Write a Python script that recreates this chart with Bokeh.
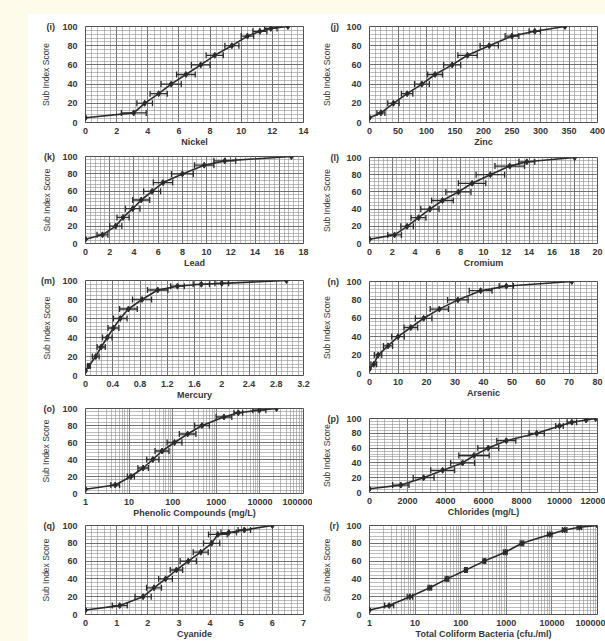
from bokeh.plotting import figure
from bokeh.layouts import column, row
from bokeh.models import (ColumnDataSource, Whisker, TeeHead, SingleIntervalTicker,
                          FixedTicker, NumeralTickFormatter)
from bokeh.embed import file_html
from bokeh.resources import INLINE

# ---------------- data ----------------
y_levels_13 = [5, 10, 20, 30, 40, 50, 60, 70, 80, 90, 95, 98, 100]
y_levels_12 = [5, 10, 20, 30, 40, 50, 60, 70, 80, 90, 95, 100]

nickel_x = [0, 3.1, 3.8, 4.7, 5.5, 6.45, 7.4, 8.3, 9.4, 10.4, 11.2, 11.9, 13.0]
nickel_y = y_levels_13
nickel_err = [0, 0.8, 0.5, 0.55, 0.65, 0.6, 0.6, 0.55, 0.45, 0.4, 0.45, 0.4, 0]

zinc_x = [0, 20, 42, 66, 92, 115, 145, 172, 210, 250, 290, 343]
zinc_y = y_levels_12
zinc_err = [0, 7, 10, 10, 13, 13, 15, 17, 16, 12, 10, 0]

lead_x = [0, 1.4, 2.5, 3.1, 3.9, 4.6, 5.5, 6.4, 8.0, 9.8, 11.5, 17.0]
lead_y = y_levels_12
lead_err = [0, 0.45, 0.5, 0.5, 0.6, 0.7, 0.7, 0.8, 0.9, 0.8, 0.9, 0]

cromium_x = [0, 2.2, 3.3, 4.3, 5.3, 6.4, 7.8, 9.0, 10.6, 12.3, 13.8, 18]
cromium_y = y_levels_12
cromium_err = [0, 0.6, 0.55, 0.65, 0.8, 0.95, 1.1, 1.2, 1.25, 1.3, 0.7, 0]

mercury_x = [0, 0.05, 0.15, 0.23, 0.32, 0.41, 0.51, 0.63, 0.83, 1.06, 1.35, 1.7, 2.0, 2.95]
mercury_y = [5, 10, 20, 30, 40, 50, 60, 70, 80, 90, 94, 96, 97, 100]
mercury_err = [0, 0.02, 0.05, 0.06, 0.07, 0.08, 0.1, 0.13, 0.14, 0.15, 0.1, 0.12, 0.1, 0]

arsenic_x = [0, 1.5, 3, 6.5, 10, 14.5, 19, 24.5, 31, 39, 48, 71]
arsenic_y = y_levels_12
arsenic_err = [0, 1, 1.3, 1.6, 2.2, 2.4, 2.9, 3.2, 3.6, 4.0, 2.5, 0]

phenolic_x = [1, 4.8, 11, 21, 35, 57, 110, 220, 470, 1500, 3200, 9700, 24000]
phenolic_y = y_levels_13
phenolic_err_dec = [0, 0.1, 0.08, 0.12, 0.14, 0.16, 0.17, 0.19, 0.17, 0.18, 0.1, 0.15, 0]

chlorides_x = [0, 1650, 2850, 3850, 4900, 5500, 6250, 7200, 8800, 10000, 10650, 11400, 11900]
chlorides_y = y_levels_13
chlorides_err = [0, 430, 550, 630, 630, 800, 550, 500, 400, 200, 250, 0, 0]

cyanide_x = [0, 1.1, 1.85, 2.2, 2.57, 2.92, 3.3, 3.7, 4.05, 4.25, 4.6, 5.1, 6.0]
cyanide_y = [5, 10, 20, 30, 40, 50, 60, 70, 80, 90, 92, 95, 100]
cyanide_err = [0, 0.24, 0.26, 0.24, 0.22, 0.2, 0.26, 0.24, 0.26, 0.3, 0.25, 0.2, 0]

coliform_x = [1, 2.7, 7.7, 21, 50, 130, 330, 950, 2200, 9000, 19000, 40000, 100000]
coliform_y = y_levels_13
coliform_err_dec = [0, 0.1, 0.06, 0.04, 0.04, 0.03, 0.03, 0.04, 0.04, 0.05, 0.05, 0.05, 0]

y_label = "Sub Index Score"

# ---------------- styling ----------------
INK = "#2b2b2b"
TXT = "#363636"
FONT = "Liberation Sans"
TICK_PX = 9.0
# approximate advance widths (em) of Liberation Sans Bold, used to keep the
# y-axis title at a fixed place although the panel tag widens the "100" label
EM = {"(": 0.333, ")": 0.333, "i": 0.278, "j": 0.278, "k": 0.556, "l": 0.278,
      "m": 0.889, "n": 0.611, "o": 0.611, "p": 0.611, "q": 0.611, "r": 0.389}


def panel(tag, xs, ys, errs, x_range, x_title, interval=None, log=False,
          width=300, height=140, mbl=77, mbr=9, mbt=18, mbb=26, title_gap=36):
    p = figure(width=width, height=height, x_range=x_range, y_range=(0, 100),
               x_axis_type="log" if log else "linear",
               output_backend="svg", toolbar_location=None,
               min_border_left=mbl, min_border_right=mbr,
               min_border_top=mbt, min_border_bottom=mbb)
    p.border_fill_color = None
    p.background_fill_color = "white"
    p.outline_line_color = "#505050"
    p.outline_line_width = 1

    if log:
        majors = [1, 10, 100, 1000, 10000, 100000]
        minors = [k * m for m in majors[:-1] for k in range(2, 10)]
        p.xaxis.ticker = FixedTicker(ticks=majors, minor_ticks=minors)
        p.xaxis.formatter = NumeralTickFormatter(format="0")
        lo = [x / (10 ** e) for x, e in zip(xs, errs)]
        hi = [x * (10 ** e) for x, e in zip(xs, errs)]
    else:
        p.xaxis.ticker = SingleIntervalTicker(interval=interval, num_minor_ticks=5)
        lo = [x - e for x, e in zip(xs, errs)]
        hi = [x + e for x, e in zip(xs, errs)]
    p.yaxis.ticker = SingleIntervalTicker(interval=20, num_minor_ticks=5)

    for g in (p.xgrid, p.ygrid):
        g.grid_line_color = "#5e5e5e"
        g.grid_line_width = 0.8
        g.minor_grid_line_color = "#8e8e8e"
        g.minor_grid_line_width = 0.6

    for ax in (p.xaxis, p.yaxis):
        ax.axis_line_color = None
        ax.major_tick_line_color = None
        ax.minor_tick_line_color = None
        ax.major_tick_out = 0
        ax.major_tick_in = 0
        ax.minor_tick_out = 0
        ax.major_label_text_font = FONT
        ax.major_label_text_font_style = "bold"
        ax.major_label_text_font_size = "%spx" % TICK_PX
        ax.major_label_text_color = TXT

    p.xaxis.major_label_standoff = 5
    p.xaxis.axis_label = x_title
    p.xaxis.axis_label_text_font = FONT
    p.xaxis.axis_label_text_font_style = "bold"
    p.xaxis.axis_label_text_font_size = "9px"
    p.xaxis.axis_label_text_color = TXT
    p.xaxis.axis_label_standoff = 0

    # panel tag "(i)" printed in front of the top tick label
    nb = "\u00a0"
    p.yaxis.major_label_overrides = {100: tag + nb * 3 + "100"}
    tag_w = sum(EM.get(c, 0.5) for c in tag) * TICK_PX + 3 * 0.278 * TICK_PX
    label_w = tag_w + 3 * 0.556 * TICK_PX
    p.yaxis.major_label_standoff = 8
    p.yaxis.axis_label = y_label
    p.yaxis.axis_label_text_font = FONT
    p.yaxis.axis_label_text_font_style = "normal"
    p.yaxis.axis_label_text_font_size = "8.5px"
    p.yaxis.axis_label_text_color = TXT
    p.yaxis.axis_label_standoff = int(round(title_gap - 8 - 5 - label_w))

    # error bars
    keep = [i for i, e in enumerate(errs) if e > 0]
    src = ColumnDataSource(dict(y=[ys[i] for i in keep], lo=[lo[i] for i in keep],
                                hi=[hi[i] for i in keep]))
    w = Whisker(source=src, base="y", lower="lo", upper="hi", dimension="width",
                line_color=INK, line_width=1.3,
                upper_head=TeeHead(size=6, line_color=INK, line_width=1.3),
                lower_head=TeeHead(size=6, line_color=INK, line_width=1.3))
    p.add_layout(w)

    p.line(xs, ys, line_color=INK, line_width=1.6)
    p.scatter(xs, ys, marker="diamond", size=6, color=INK)
    return p


# row geometry (page px): (fig_top, L_frame_top, L_frame_bottom, R_frame_top, R_frame_bottom, fig_bottom)
rows_geo = [
    (0, 26, 122, 26, 122, 150),
    (150, 156, 243, 157, 243, 272),
    (272, 280, 375, 281, 373, 403),
    (403, 408, 494, 418, 492, 520),
    (520, 525, 614, 525, 614, 641),
]

specs = [
    (("(i)", nickel_x, nickel_y, nickel_err, (0, 14), "Nickel", 2, False),
     ("(j)", zinc_x, zinc_y, zinc_err, (0, 400), "Zinc", 50, False)),
    (("(k)", lead_x, lead_y, lead_err, (0, 18), "Lead", 2, False),
     ("(l)", cromium_x, cromium_y, cromium_err, (0, 20), "Cromium", 2, False)),
    (("(m)", mercury_x, mercury_y, mercury_err, (0, 3.2), "Mercury", 0.4, False),
     ("(n)", arsenic_x, arsenic_y, arsenic_err, (0, 80), "Arsenic", 10, False)),
    (("(o)", phenolic_x, phenolic_y, phenolic_err_dec, (1, 100000), "Phenolic Compounds (mg/L)", None, True),
     ("(p)", chlorides_x, chlorides_y, chlorides_err, (0, 12000), "Chlorides (mg/L)", 2000, False)),
    (("(q)", cyanide_x, cyanide_y, cyanide_err, (0, 7), "Cyanide", 1, False),
     ("(r)", coliform_x, coliform_y, coliform_err_dec, (1, 100000), "Total Coliform Bacteria (cfu./ml)", None, True)),
]

LEFT_W, RIGHT_W = 312, 293
L_FRAME = (85, 303)
R_FRAME = (369, 597)

left_figs, right_figs = [], []
for geo, (lspec, rspec) in zip(rows_geo, specs):
    ftop, lt, lb, rt, rb, fbot = geo
    h = fbot - ftop
    pl = panel(*lspec[:5], lspec[5], interval=lspec[6], log=lspec[7],
               width=LEFT_W, height=h, mbl=L_FRAME[0], mbr=LEFT_W - L_FRAME[1],
               mbt=lt - ftop, mbb=fbot - lb, title_gap=36)
    pr = panel(*rspec[:5], rspec[5], interval=rspec[6], log=rspec[7],
               width=RIGHT_W, height=h, mbl=R_FRAME[0] - LEFT_W,
               mbr=LEFT_W + RIGHT_W - R_FRAME[1],
               mbt=rt - ftop, mbb=fbot - rb, title_gap=39)
    if lspec[5] == "Mercury":
        pl.xaxis.major_label_overrides = {0: "0", 2: "2"}
    left_figs.append(pl)
    right_figs.append(pr)

layout = row(column(*left_figs), column(*right_figs))

html = file_html(layout, INLINE, "Sub Index Curves")
cream = "#fffbea"
bg_css = ("<style>html, body { background: "
          "linear-gradient(%s,%s) 0 0 / 100%% 14px no-repeat, "
          "linear-gradient(%s,%s) 0 0 / 28px 100%% no-repeat, #ffffff !important; }</style>"
          % (cream, cream, cream, cream))
html = html.replace("</head>", bg_css + "</head>", 1)
open("out.html", "w").write(html)
